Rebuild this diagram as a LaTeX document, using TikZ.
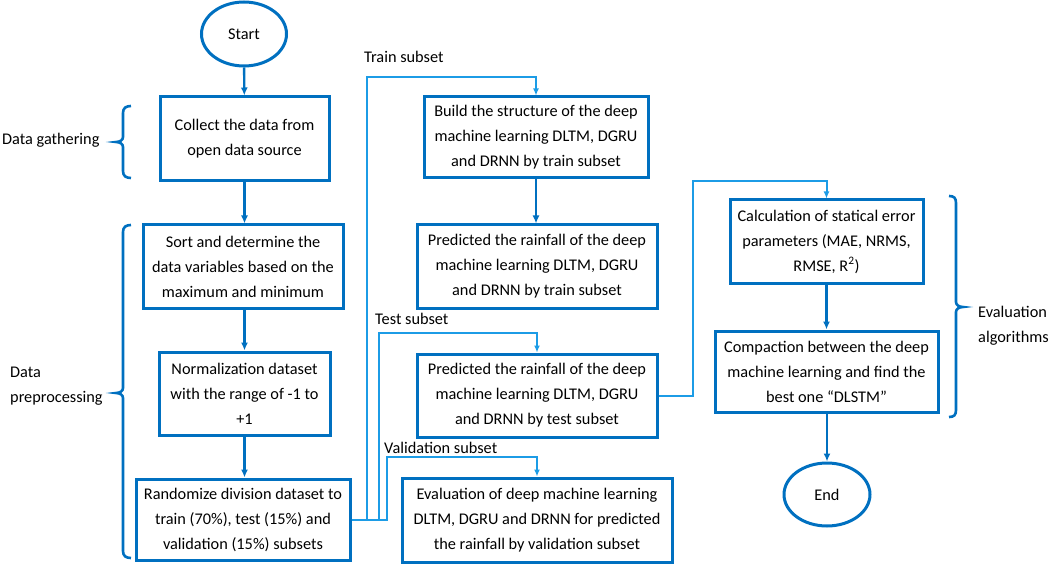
\documentclass[tikz,border=0pt]{standalone}
\usepackage{fontspec}
\setmainfont{Carlito}
\usetikzlibrary{arrows.meta,shapes.geometric,positioning}
\definecolor{boxblue}{RGB}{0,112,192}
\definecolor{linkblue}{RGB}{28,156,230}
\begin{document}
\begin{tikzpicture}[x=1pt,y=1pt,
  every node/.style={font=\fontsize{16.3}{25}\selectfont},
  stepbox/.style={draw=boxblue, line width=3pt, align=center, inner sep=0pt},
  term/.style={draw=boxblue, line width=3pt, ellipse, inner sep=0pt},
  flow/.style={draw=boxblue, line width=2.4pt, -{Latex[length=8pt,width=7pt]}},
  link/.style={draw=linkblue, line width=2pt, -{Latex[length=7pt,width=6pt]}},
  grp/.style={draw=boxblue, line width=2.6pt}]
  \useasboundingbox (0,0) rectangle (1052,-564);
  \node[term, minimum width=85, minimum height=64](start) at (244,-34){Start};
  \node[stepbox, minimum width=169, minimum height=84](collect) at (244.5,-139){Collect the data from\\open data source};
  \node[stepbox, minimum width=200, minimum height=83](sort) at (243,-266.5){Sort and determine the\\data variables based on the\\maximum and minimum};
  \node[stepbox, minimum width=171, minimum height=83](norm) at (244.5,-393.5){Normalization dataset\\with the range of -1 to\\+1};
  \node[stepbox, minimum width=214, minimum height=81](rand) at (243,-519.5){Randomize division dataset to\\train (70\%), test (15\%) and\\validation (15\%) subsets};
  \node[stepbox, minimum width=224, minimum height=81](build) at (536,-137.5){Build the structure of the deep\\machine learning DLTM, DGRU\\and DRNN by train subset};
  \node[stepbox, minimum width=240, minimum height=83](ptrain) at (537,-266.5){Predicted the rainfall of the deep\\machine learning DLTM, DGRU\\and DRNN by train subset};
  \node[stepbox, minimum width=240, minimum height=83](ptest) at (537,-395.5){Predicted the rainfall of the deep\\machine learning DLTM, DGRU\\and DRNN by test subset};
  \node[stepbox, minimum width=270, minimum height=84](val) at (537,-520){Evaluation of deep machine learning\\DLTM, DGRU and DRNN for predicted\\the rainfall by validation subset};
  \node[stepbox, minimum width=193, minimum height=83](calc) at (826.5,-241.5){Calculation of statical error\\parameters (MAE, NRMS,\\RMSE, R\textsuperscript{2})};
  \node[stepbox, minimum width=223, minimum height=81](comp) at (826.5,-371.5){Compaction between the deep\\machine learning and find the\\best one “DLSTM”};
  \node[term, minimum width=86, minimum height=63](end) at (827,-494.5){End};

  \draw[flow](start)--(collect);
  \draw[flow](collect)--(collect.south |- sort.north);
  \draw[flow](sort.south -| collect)--(collect |- norm.north);
  \draw[flow](norm.south -| collect)--(collect |- rand.north);
  \draw[flow](build.south)--(build.south |- ptrain.north);
  \draw[flow](calc)--(calc.south |- comp.north);
  \draw[flow](comp.south -| end)--(end);

  \coordinate(trn) at (367,-77);
  \coordinate(tst) at (379,-333);
  \coordinate(vld) at (387,-457);
  \coordinate(evl) at (693,-181);
  \draw[link](rand.east) -| (trn) -| (build.north);
  \draw[link](rand.east) -| (tst) -| (ptest.north);
  \draw[link](rand.east) -| (vld) -| (val.north);
  \draw[link](ptest.east) -| (evl) -| (calc.north);
  \node[anchor=base west, inner sep=0pt](trnlbl) at (364,-63){Train subset};
  \node[anchor=base west, inner sep=0pt](tstlbl) at (375,-324){Test subset};
  \node[anchor=base west, inner sep=0pt](vldlbl) at (384,-453){Validation subset};

  \draw[grp](131,-106) .. controls (126,-106) and (123,-108) .. (123,-113) -- (123,-137)
    .. controls (123,-140) and (120,-142) .. (116,-142) .. controls (120,-142) and (123,-144) .. (123,-147)
    -- (123,-171) .. controls (123,-176) and (126,-178) .. (131,-178);
  \draw[grp](131,-225) .. controls (126,-225) and (123,-227) .. (123,-232) -- (123,-388)
    .. controls (123,-391) and (120,-393) .. (116,-393) .. controls (120,-393) and (123,-395) .. (123,-398)
    -- (123,-551) .. controls (123,-556) and (126,-558) .. (131,-558);
  \draw[grp](949,-196) .. controls (954,-196) and (956,-198) .. (956,-203) -- (956,-302)
    .. controls (956,-305) and (959,-307) .. (963,-307) .. controls (959,-307) and (956,-309) .. (956,-312)
    -- (956,-410) .. controls (956,-415) and (954,-417) .. (949,-417);
  \node[anchor=west, inner sep=0pt](gather) at (2,-140){Data gathering};
  \node[anchor=west, align=left, inner sep=0pt](prep) at (10,-386){Data\\preprocessing};
  \node[anchor=west, align=left, inner sep=0pt](evalg) at (978,-326){Evaluation\\algorithms};
\end{tikzpicture}
\end{document}
